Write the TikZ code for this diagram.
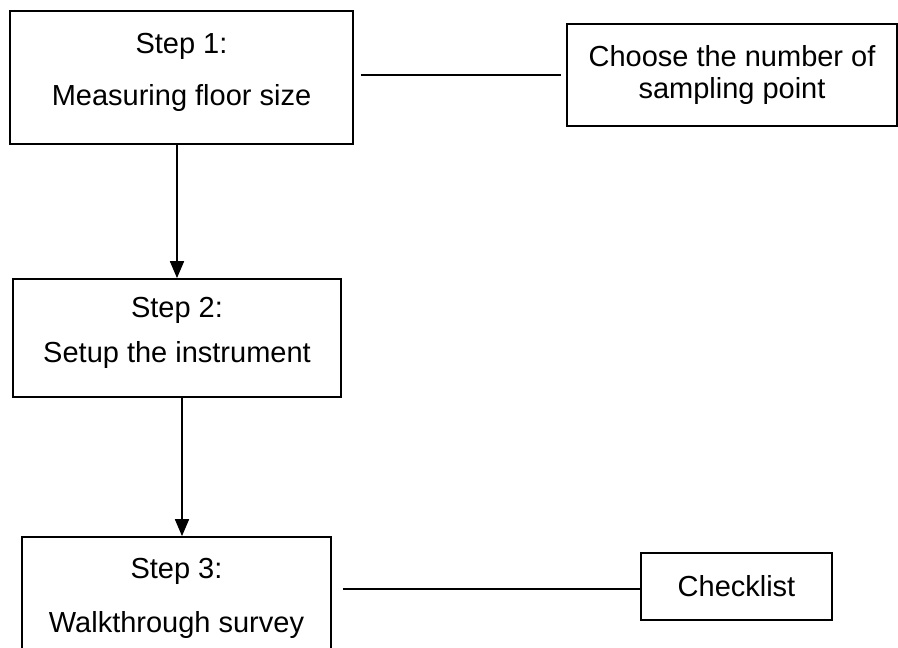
\documentclass[tikz,border=0pt]{standalone}
\usepackage{fontspec}
\setmainfont{Liberation Sans}
\usetikzlibrary{arrows.meta,positioning,calc}

\newcommand{\stepfont}[1]{\fontsize{16.5}{#1}\selectfont}

\begin{document}
\begin{tikzpicture}[
            x=0.02cm, y=-0.02cm,
            box/.style={rectangle, draw=black, line width=1pt, align=center, inner sep=0pt},
            arrow/.style={-{Triangle[length=0.34cm, width=0.28cm]}, line width=1pt},
            link/.style={line width=1pt}
        ]
            \clip (0,0) rectangle (898,648);
            \node[box, minimum width=6.86cm, minimum height=2.66cm, text depth=0.32cm, font=\stepfont{29.5}] (step1) at (181.5,77.5) {Step 1:\\Measuring floor size};
            \node[box, minimum width=6.6cm, minimum height=2.04cm, font=\stepfont{18.7}] (choose) at (732,75) {Choose the number of\\sampling point};
            \node[box, minimum width=6.56cm, minimum height=2.36cm, text depth=0.32cm, font=\stepfont{26}] (step2) at (177,338) {Step 2:\\Setup the instrument};
            \node[box, minimum width=6.18cm, minimum height=2.46cm, font=\stepfont{31}] (step3) at (176.5,598.5) {Step 3:\\Walkthrough survey};
            \node[box, minimum width=3.82cm, minimum height=1.34cm, font=\stepfont{18}] (check) at (736.5,586.5) {Checklist};

            \draw[link, shorten <=0.14cm, shorten >=0.1cm] (step1.east |- choose.west) -- (choose.west);
            \draw[arrow] (step2.north |- step1.south) -- (step2.north);
            \draw[arrow] ([xshift=0.1cm]step2.south) -- ([xshift=0.1cm]step2.south |- step3.north);
            \draw[link, shorten <=0.22cm] ([yshift=-0.05cm]step3.east |- check.west) -- ([yshift=-0.05cm]check.west);
        \end{tikzpicture}
\end{document}
